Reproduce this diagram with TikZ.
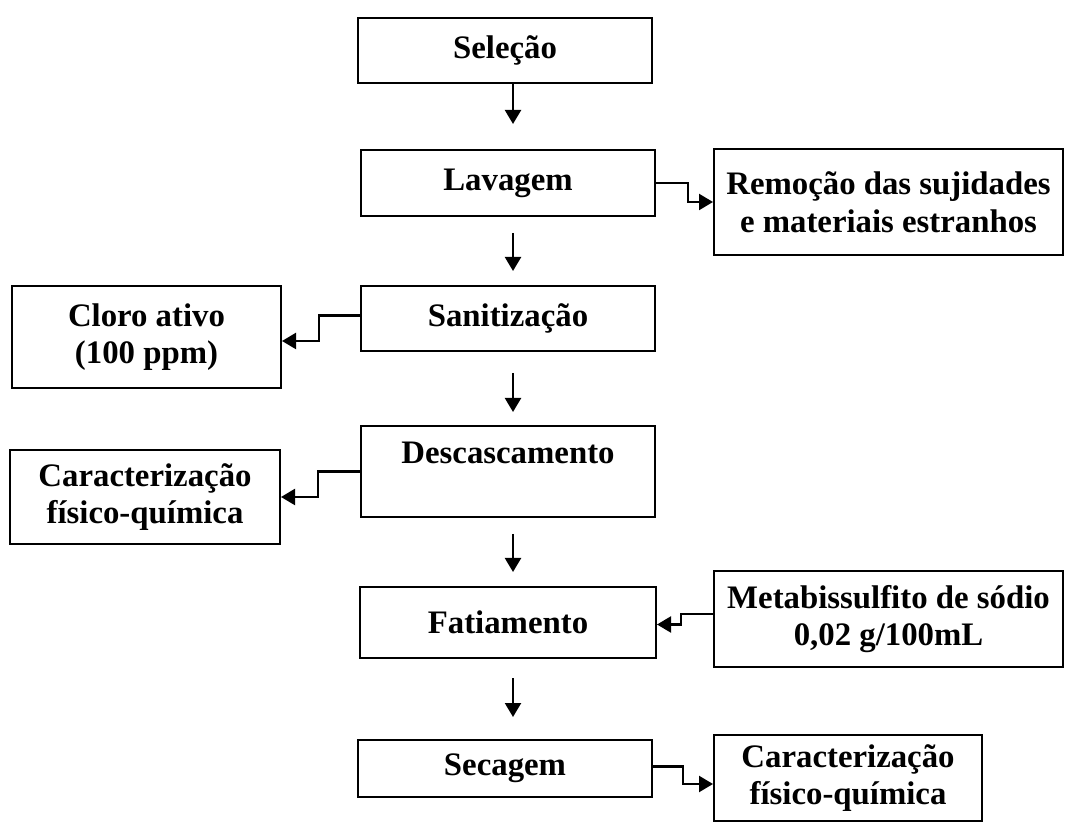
\documentclass[tikz,border=0pt]{standalone}
\usepackage{fontspec}
\setmainfont{Liberation Serif}
\usepackage{tikz}
\usetikzlibrary{arrows.meta,calc}
\tikzstyle{tsBoldText} = [
    text=black,
    font=\bfseries\fontsize{16.4}{18.8}\selectfont
]
\tikzstyle{tsBox} = [
    rectangle,
    tsBoldText,
    align=center,
    inner sep=0pt,
    draw=black,
    line width=1pt]
\tikzstyle{tsStep} = [
    tsBox,
    minimum width=147pt
]
\tikzstyle{tsArrow} = [
    -{Triangle[length=7pt,width=8pt]},
    line width=1.1pt
]
\begin{document}
\begin{tikzpicture}[x=0.5pt, y=-0.5pt]

        \useasboundingbox (0,0) rectangle (1070,822);

        % main line
        \node[tsStep, minimum height=32.5pt] (selecao) at (505,50.5) {Seleção};
        \node[tsStep, minimum height=33pt] (lavagem) at (508,183) {Lavagem};
        \node[tsStep, minimum height=32.5pt] (sanitizacao) at (508,318.5) {Sanitização};
        \node[tsStep, minimum height=45.5pt] (descascamento) at (508,471.5) {Descascamento\\\mbox{}};
        \node[tsStep, minimum width=148pt, minimum height=35.5pt] (fatiamento) at (508,622.5) {Fatiamento};
        \node[tsStep, minimum height=28.5pt] (secagem) at (505,768.5) {Secagem};

        % side boxes
        \node[tsBox, minimum width=174.5pt, minimum height=53pt] (remocao) at (888.5,202) {Remoção das sujidades\\e materiais estranhos};
        \node[tsBox, minimum width=134.5pt, minimum height=51pt] (cloro) at (146.5,337) {Cloro ativo\\(100 ppm)};
        \node[tsBox, minimum width=135pt, minimum height=47pt] (caracterizacaoA) at (145,497) {Caracterização\\físico-química};
        \node[tsBox, minimum width=174.5pt, minimum height=48pt] (metabissulfito) at (888.5,619) {Metabissulfito de sódio\\0,02 g/100mL};
        \node[tsBox, minimum width=134pt, minimum height=43pt] (caracterizacaoB) at (848,778) {Caracterização\\físico-química};

        \draw[tsArrow] ($(selecao.south)+(8,0)$) -- ($(selecao.south |- lavagem.north)+(8,-25)$);
        \draw[tsArrow] ($(lavagem.south)+(5,16)$) -- ($(sanitizacao.north)+(5,-14)$);
        \draw[tsArrow] ($(sanitizacao.south)+(5,21)$) -- ($(descascamento.north)+(5,-13)$);
        \draw[tsArrow] ($(descascamento.south)+(5,16)$) -- ($(fatiamento.north)+(5,-14)$);
        \draw[tsArrow] ($(fatiamento.south)+(5,19)$) -- ($(fatiamento.south |- secagem.north)+(5,-22)$);

        \draw[tsArrow] (lavagem.east) -- ++(32,0) |- (remocao.west);
        \draw[tsArrow] ($(sanitizacao.west)+(0,-3)$) -- ++(-41,0) |- ($(cloro.east)+(0,4)$);
        \draw[tsArrow] (descascamento.west) -- ++(-42,0) |- (caracterizacaoA.east);
        \draw[tsArrow] ($(metabissulfito.west)+(0,-5)$) -- ++(-32,0) |- ($(fatiamento.east)+(0,2)$);
        \draw[tsArrow] ($(secagem.east)+(0,-2)$) -- ++(30,0) |- ($(caracterizacaoB.west)+(0,6)$);

    \end{tikzpicture}
\end{document}
